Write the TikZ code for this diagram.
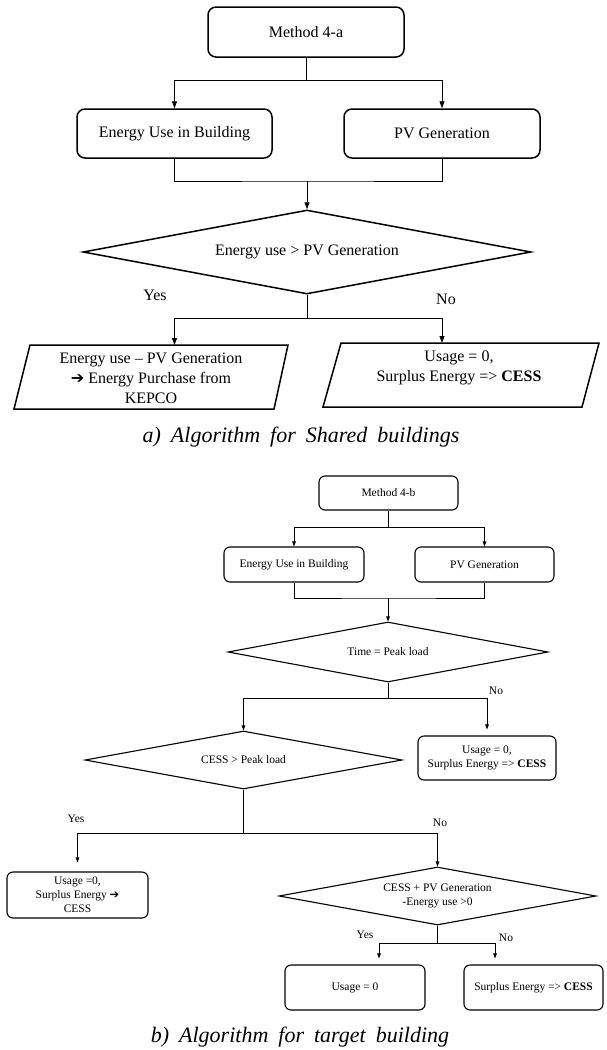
\documentclass[tikz,border=0pt]{standalone}
\usepackage{fontspec}
\setmainfont{Liberation Serif}
\newfontfamily\dvsans{DejaVu Sans}
\usetikzlibrary{shapes.geometric,arrows.meta,calc}
\newcommand{\hvarrow}{{\dvsans ➔}}
\begin{document}
\begin{tikzpicture}[x=1pt,y=-1pt,
  boxa/.style={draw, line width=1.5pt, rounded corners=8pt, minimum width=#1, minimum height=49pt, inner sep=0pt, font=\fontsize{16}{20}\selectfont, align=center},
  boxb/.style={draw, line width=1.1pt, rounded corners=6pt, minimum width=#1, inner sep=0pt, font=\fontsize{11.5}{14}\selectfont, align=center},
  dia/.style={draw, diamond, inner sep=0pt, align=center},
  txta/.style={font=\fontsize{16}{20}\selectfont, align=center, inner sep=0pt},
  txtb/.style={font=\fontsize{11.5}{14}\selectfont, align=center, inner sep=0pt},
  shapea/.style={draw, line width=1.5pt, line join=miter},
  lna/.style={line width=0.9pt},
  lnb/.style={line width=0.7pt},
  arra/.style={lna, -{Triangle[length=7pt,width=5pt]}},
  arrb/.style={lnb, -{Triangle[length=5pt,width=3.6pt]}},
  capt/.style={font=\fontsize{22}{26}\selectfont\itshape, inner sep=0pt}
]
\useasboundingbox (0,0) rectangle (606,1050);
\fill[white] (0,0) rectangle (606,1050);

% ---------------- Part a ----------------
\node[boxa=196pt, minimum height=50pt] (ma) at (306,32) {Method 4-a};
\node[boxa=195pt] (ea) at (174.5,133.5) {Energy Use in Building};
\node[boxa=196pt] (pa) at (442,133.5) {PV Generation};
\node[dia, line width=1.5pt, aspect=5.33, minimum width=448pt, minimum height=84pt,
      font=\fontsize{16}{20}\selectfont] (da) at (307,252) {Energy use > PV Generation};

\draw[shapea] (30,345) -- (288,345) -- (274,409) -- (14,409) -- cycle;
\draw[shapea] (341,343) -- (599,343) -- (582,407) -- (323,407) -- cycle;
\node[txta] (la) at (151,378) {Energy use – PV Generation\\ \hvarrow\ Energy Purchase from\\ KEPCO};
\node[txta] (ra) at (459,368) {Usage = 0,\\ Surplus Energy => \textbf{CESS}};
\coordinate (latop) at (174.5,345);
\coordinate (ratop) at (442,343);

\coordinate (ja1) at (306,80);
\draw[lna] (ma.south) -- (ja1);
\draw[arra] (ja1) -| (ea.north);
\draw[arra] (ja1) -| (pa.north);
\coordinate (ja2) at (307,181);
\draw[lna] (ea.south) |- (ja2) -| (pa.south);
\draw[arra] (ja2) -- (da.north);
\coordinate (ja3) at (307,318);
\draw[lna] (da.south) -- (ja3);
\draw[arra] (ja3) -| (latop);
\draw[arra] (ja3) -| (ratop);

\node[txta] (yesa) at (155,295) {Yes};
\node[txta] (noa) at (446,299) {No};

\node[capt] (capa) at (301,437) {\spaceskip=10pt\relax a) Algorithm for Shared buildings};

% ---------------- Part b ----------------
\node[boxb=139pt, minimum height=34pt] (mb) at (388.5,493) {Method 4-b};
\node[boxb=140pt, minimum height=35pt] (eb) at (294,564.5) {Energy Use in Building};
\node[boxb=139pt, minimum height=35pt] (pb) at (484.5,564.5) {PV Generation};
\node[dia, line width=1.1pt, aspect=5.33, minimum width=320pt, minimum height=60pt,
      font=\fontsize{11.5}{14}\selectfont] (db1) at (388,652) {Time = Peak load};
\node[dia, line width=1.1pt, aspect=5.47, minimum width=317pt, minimum height=58pt,
      font=\fontsize{11.5}{14}\selectfont] (db2) at (243.5,760) {CESS > Peak load};
\node[boxb=138pt, minimum height=44pt] (ub) at (487,758) {Usage = 0,\\ Surplus Energy => \textbf{CESS}};
\node[boxb=141pt, minimum height=46pt] (lb) at (77.5,895) {Usage =0,\\ Surplus Energy \hvarrow\\ CESS};
\node[dia, line width=1.1pt, aspect=5.47, minimum width=317pt, minimum height=58pt,
      font=\fontsize{11.5}{14}\selectfont] (db3) at (437.5,896) {CESS + PV Generation\\ -Energy use >0};
\node[boxb=140pt, minimum height=45pt] (u0) at (355,987.5) {Usage = 0};
\node[boxb=139pt, minimum height=45pt] (sb) at (533.5,987.5) {Surplus Energy => \textbf{CESS}};

\coordinate (jb1) at (388.5,527);
\draw[lnb] (mb.south) -- (jb1);
\draw[arrb] (jb1) -| (eb.north);
\draw[arrb] (jb1) -| (pb.north);
\coordinate (jb2) at (388,598);
\draw[lnb] (eb.south) |- (jb2) -| (pb.south);
\draw[arrb] (jb2) -- (db1.north);
\coordinate (jb3) at (388,698);
\draw[lnb] (db1.south) -- (jb3);
\draw[arrb] (jb3) -| (db2.north);
\draw[arrb, shorten >=6pt] (jb3) -| (ub.north);
\coordinate (jb4) at (243.5,833);
\draw[lnb] (db2.south) -- (jb4);
\draw[arrb, shorten >=9pt] (jb4) -| (lb.north);
\draw[arrb] (jb4) -| (db3.north);
\coordinate (jb5) at (437.5,943);
\draw[lnb] (db3.south) -- (jb5);
\draw[arrb, shorten >=6pt] (jb5) -| ($(u0.north)+(24,0)$);
\draw[arrb, shorten >=6pt] (jb5) -| ($(sb.north)+(-38.5,0)$);

\node[txtb] (nob1) at (496,691) {No};
\node[txtb] (yesb2) at (76,819) {Yes};
\node[txtb] (nob2) at (440,823) {No};
\node[txtb] (yesb3) at (365,935) {Yes};
\node[txtb] (nob3) at (506,938) {No};

\node[capt] (capb) at (300,1037) {\spaceskip=10pt\relax b) Algorithm for target building};
\end{tikzpicture}
\end{document}
